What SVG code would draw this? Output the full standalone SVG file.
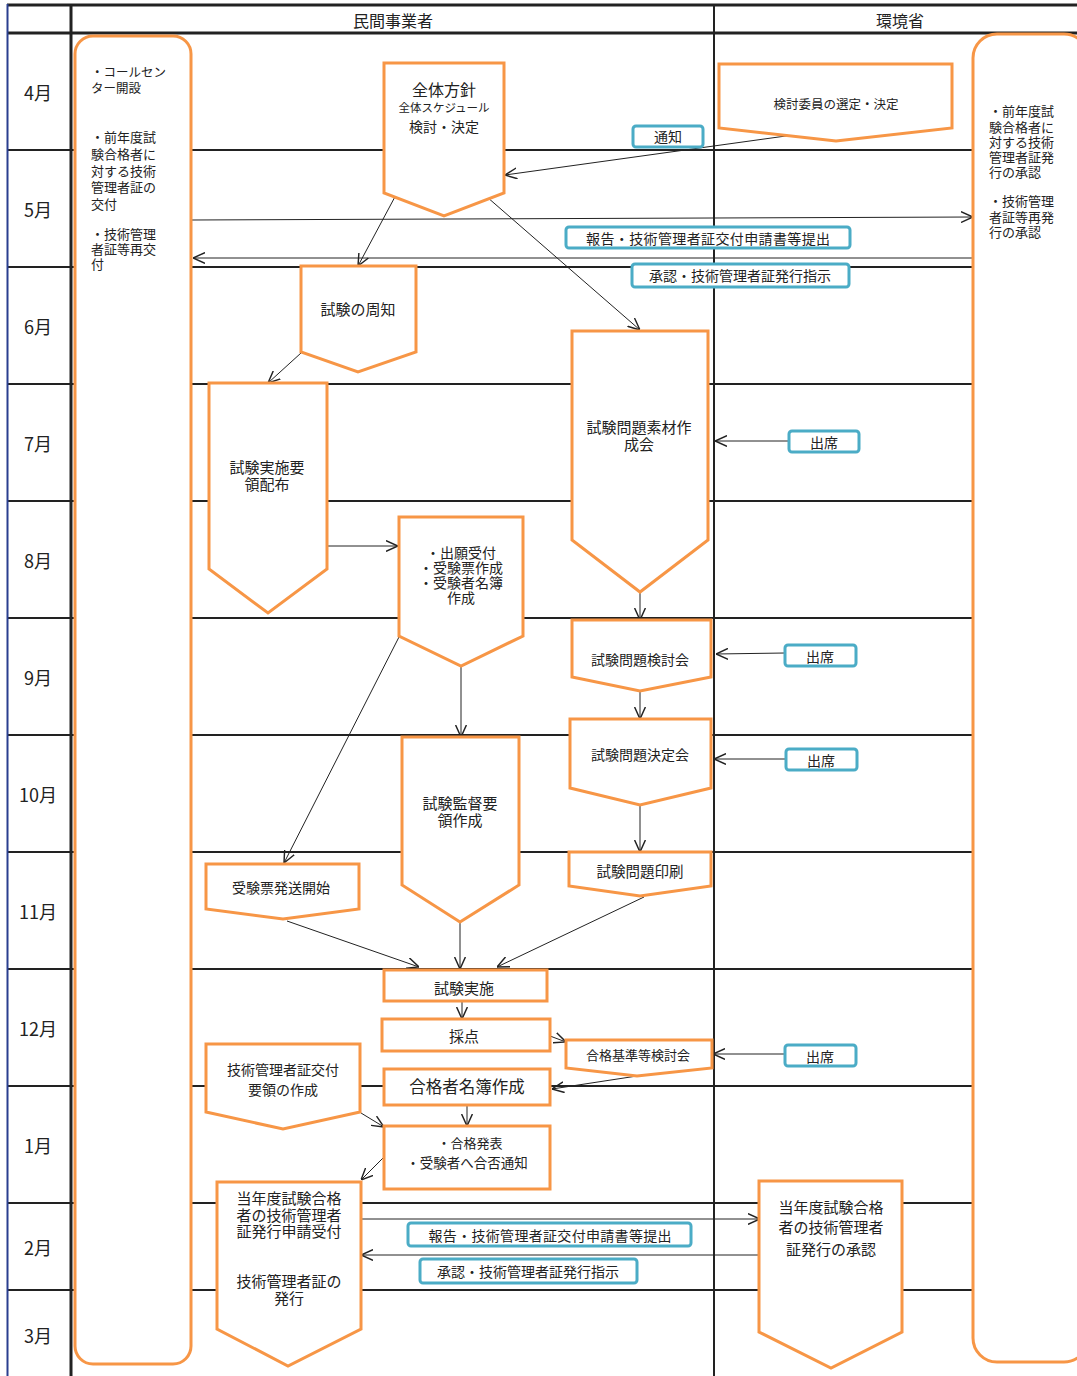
<svg xmlns="http://www.w3.org/2000/svg" width="1077" height="1376" viewBox="0 0 1077 1376">
<style>
text{font-family:"Noto Sans CJK JP","Noto Sans",sans-serif;fill:#222;text-anchor:middle;dominant-baseline:central}
.l{text-anchor:start}
.grid{stroke:#222;stroke-width:2;fill:none}
.thick{stroke:#222;stroke-width:3;fill:none}
.node{fill:#fff;stroke:#F79646;stroke-width:3;stroke-linejoin:miter}
.lbl{fill:#fff;stroke:#4BACC6;stroke-width:3}
.c{stroke:#222;stroke-width:1;fill:none;marker-end:url(#ah)}
.m{font-size:18px}
</style>
<defs>
<marker id="ah" viewBox="0 0 10 10" refX="10" refY="5" markerWidth="12" markerHeight="12" markerUnits="userSpaceOnUse" orient="auto">
<path d="M0,0.5 L10,5 L0,9.5" fill="none" stroke="#222" stroke-width="1.2"/>
</marker>
</defs>
<rect width="1077" height="1376" fill="#fff"/>
<g id="grid">
<line class="thick" x1="7" y1="5" x2="1077" y2="5"/>
<line class="thick" x1="7" y1="33" x2="1077" y2="33"/>
<line class="grid" x1="7" y1="150" x2="973" y2="150"/>
<line class="grid" x1="7" y1="267" x2="973" y2="267"/>
<line class="grid" x1="7" y1="384" x2="973" y2="384"/>
<line class="grid" x1="7" y1="501" x2="973" y2="501"/>
<line class="grid" x1="7" y1="618" x2="973" y2="618"/>
<line class="grid" x1="7" y1="735" x2="973" y2="735"/>
<line class="grid" x1="7" y1="852" x2="973" y2="852"/>
<line class="grid" x1="7" y1="969" x2="973" y2="969"/>
<line class="grid" x1="7" y1="1086" x2="973" y2="1086"/>
<line class="grid" x1="7" y1="1203" x2="973" y2="1203"/>
<line class="grid" x1="7" y1="1290" x2="973" y2="1290"/>
<line x1="7.5" y1="4" x2="7.5" y2="1376" stroke="#2a3f8f" stroke-width="2"/>
<line class="thick" x1="71" y1="4" x2="71" y2="1376"/>
<line class="grid" x1="714" y1="4" x2="714" y2="1376"/>
<text x="393" y="20" style="font-size:16px">民間事業者</text>
<text x="900" y="20" style="font-size:16px">環境省</text>
<text class="m" x="38" y="92">4月</text>
<text class="m" x="38" y="209">5月</text>
<text class="m" x="38" y="326">6月</text>
<text class="m" x="38" y="443">7月</text>
<text class="m" x="38" y="560">8月</text>
<text class="m" x="38" y="677">9月</text>
<text class="m" x="38" y="794">10月</text>
<text class="m" x="38" y="911">11月</text>
<text class="m" x="38" y="1028">12月</text>
<text class="m" x="38" y="1145">1月</text>
<text class="m" x="38" y="1247">2月</text>
<text class="m" x="38" y="1335">3月</text>
</g>
<g id="connectors">
<line class="c" x1="793" y1="135" x2="505" y2="175"/>
<line class="c" x1="191" y1="220" x2="973" y2="217"/>
<line class="c" x1="973" y1="258" x2="193" y2="258"/>
<line class="c" x1="397" y1="193" x2="358" y2="266"/>
<line class="c" x1="487" y1="197" x2="640" y2="330"/>
<line class="c" x1="301" y1="353" x2="268" y2="383"/>
<line class="c" x1="327" y1="546" x2="398" y2="546"/>
<line class="c" x1="789" y1="441" x2="715" y2="441"/>
<line class="c" x1="640" y1="592" x2="640" y2="620"/>
<line class="c" x1="785" y1="653" x2="716" y2="654"/>
<line class="c" x1="640" y1="692" x2="640" y2="719"/>
<line class="c" x1="786" y1="759" x2="714" y2="759"/>
<line class="c" x1="640" y1="806" x2="640" y2="852"/>
<line class="c" x1="644" y1="897" x2="497" y2="967"/>
<line class="c" x1="399" y1="637" x2="284" y2="863"/>
<line class="c" x1="461" y1="666" x2="461" y2="737"/>
<line class="c" x1="287" y1="921" x2="419" y2="967"/>
<line class="c" x1="460" y1="923" x2="460" y2="969"/>
<line class="c" x1="462" y1="1002" x2="462" y2="1019"/>
<line class="c" x1="550" y1="1036" x2="566" y2="1042"/>
<line class="c" x1="785" y1="1054" x2="713" y2="1054"/>
<line class="c" x1="637" y1="1076" x2="552" y2="1089"/>
<line class="c" x1="467" y1="1105" x2="467" y2="1126"/>
<line class="c" x1="361" y1="1113" x2="384" y2="1127"/>
<line class="c" x1="384" y1="1157" x2="361" y2="1180"/>
<line class="c" x1="361" y1="1219" x2="760" y2="1219"/>
<line class="c" x1="759" y1="1255" x2="361" y2="1255"/>
</g>
<g id="left-panel">
<rect class="node" x="75" y="36" width="116" height="1328" rx="18"/>
<text class="l" x="91" y="71" style="font-size:12.5px">・コールセン</text>
<text class="l" x="91" y="87" style="font-size:12.5px">ター開設</text>
<text class="l" x="91" y="136" style="font-size:13px">・前年度試</text>
<text class="l" x="91" y="153" style="font-size:13px">験合格者に</text>
<text class="l" x="91" y="170" style="font-size:13px">対する技術</text>
<text class="l" x="91" y="186" style="font-size:13px">管理者証の</text>
<text class="l" x="91" y="203" style="font-size:13px">交付</text>
<text class="l" x="91" y="233" style="font-size:13px">・技術管理</text>
<text class="l" x="91" y="248" style="font-size:13px">者証等再交</text>
<text class="l" x="91" y="263" style="font-size:13px">付</text>
</g>
<g id="right-panel">
<rect class="node" x="973" y="34" width="115" height="1328" rx="24"/>
<text class="l" x="989" y="110" style="font-size:13px">・前年度試</text>
<text class="l" x="989" y="126" style="font-size:13px">験合格者に</text>
<text class="l" x="989" y="141" style="font-size:13px">対する技術</text>
<text class="l" x="989" y="156" style="font-size:13px">管理者証発</text>
<text class="l" x="989" y="171" style="font-size:13px">行の承認</text>
<text class="l" x="989" y="200" style="font-size:13px">・技術管理</text>
<text class="l" x="989" y="216" style="font-size:13px">者証等再発</text>
<text class="l" x="989" y="231" style="font-size:13px">行の承認</text>
</g>
<g id="n-zentai">
<polygon class="node" points="384,63 504,63 504,193 444,216 384,193"/>
<text x="444" y="89" style="font-size:16px">全体方針</text>
<text x="444" y="107" style="font-size:11.5px">全体スケジュール</text>
<text x="444" y="126" style="font-size:14px">検討・決定</text>
</g>
<g id="n-iin">
<polygon class="node" points="719,64 952,64 952,128 836,141 719,128"/>
<text x="836" y="103" style="font-size:12.5px">検討委員の選定・決定</text>
</g>
<g id="l-tsuchi">
<rect class="lbl" x="633" y="126" width="70" height="21" rx="3"/>
<text x="668" y="136" style="font-size:14px">通知</text>
</g>
<g id="l-hokoku1">
<rect class="lbl" x="566" y="227" width="284" height="21" rx="3"/>
<text x="708" y="238" style="font-size:14px" textLength="244" lengthAdjust="spacing">報告・技術管理者証交付申請書等提出</text>
</g>
<g id="l-shonin1">
<rect class="lbl" x="632" y="264" width="217" height="23" rx="3"/>
<text x="740" y="275" style="font-size:14px">承認・技術管理者証発行指示</text>
</g>
<g id="n-shuchi">
<polygon class="node" points="301,266 416,266 416,352 358,372 301,352"/>
<text x="358" y="308" style="font-size:15px">試験の周知</text>
</g>
<g id="n-yoryo">
<polygon class="node" points="209,383 327,383 327,569 268,613 209,569"/>
<text x="267" y="466" style="font-size:15px">試験実施要</text>
<text x="267" y="483" style="font-size:15px">領配布</text>
</g>
<g id="n-shutsugan">
<polygon class="node" points="399,517 523,517 523,636 461,666 399,636"/>
<text x="461" y="552" style="font-size:14px">・出願受付</text>
<text x="461" y="567" style="font-size:14px">・受験票作成</text>
<text x="461" y="582" style="font-size:14px">・受験者名簿</text>
<text x="461" y="597" style="font-size:14px">作成</text>
</g>
<g id="n-sozai">
<polygon class="node" points="572,331 708,331 708,540 640,592 572,540"/>
<text x="639" y="426" style="font-size:15px">試験問題素材作</text>
<text x="639" y="443" style="font-size:15px">成会</text>
</g>
<g id="l-shusseki1">
<rect class="lbl" x="789" y="431" width="70" height="21" rx="3"/>
<text x="824" y="442" style="font-size:14px">出席</text>
</g>
<g id="n-kento">
<polygon class="node" points="572,620 711,620 711,677 640,691 572,677"/>
<text x="640" y="659" style="font-size:14px">試験問題検討会</text>
</g>
<g id="l-shusseki2">
<rect class="lbl" x="785" y="645" width="71" height="21" rx="3"/>
<text x="820" y="656" style="font-size:14px">出席</text>
</g>
<g id="n-kettei">
<polygon class="node" points="570,719 711,719 711,788 640,805 570,788"/>
<text x="640" y="754" style="font-size:14px">試験問題決定会</text>
</g>
<g id="l-shusseki3">
<rect class="lbl" x="786" y="749" width="71" height="21" rx="3"/>
<text x="821" y="760" style="font-size:14px">出席</text>
</g>
<g id="n-insatsu">
<polygon class="node" points="569,852 711,852 711,886 640,896 569,886"/>
<text x="640" y="870" style="font-size:14.5px">試験問題印刷</text>
</g>
<g id="n-kantoku">
<polygon class="node" points="402,737 519,737 519,885 460,922 402,885"/>
<text x="460" y="802" style="font-size:15px">試験監督要</text>
<text x="460" y="819" style="font-size:15px">領作成</text>
</g>
<g id="n-hasso">
<polygon class="node" points="206,864 359,864 359,909 283,919 206,909"/>
<text x="281" y="887" style="font-size:14px">受験票発送開始</text>
</g>
<g id="n-jisshi">
<rect class="node" x="384" y="970" width="163" height="31"/>
<text x="464" y="987" style="font-size:15px">試験実施</text>
</g>
<g id="n-saiten">
<rect class="node" x="382" y="1019" width="168" height="32"/>
<text x="464" y="1035" style="font-size:15px">採点</text>
</g>
<g id="n-kijun">
<polygon class="node" points="566,1040 712,1040 712,1068 637,1076 566,1068"/>
<text x="638" y="1054" style="font-size:13px">合格基準等検討会</text>
</g>
<g id="l-shusseki4">
<rect class="lbl" x="785" y="1045" width="71" height="21" rx="3"/>
<text x="820" y="1056" style="font-size:14px">出席</text>
</g>
<g id="n-meibo">
<rect class="node" x="384" y="1069" width="166" height="36"/>
<text x="467" y="1086" style="font-size:16.5px">合格者名簿作成</text>
</g>
<g id="n-happyo">
<rect class="node" x="384" y="1126" width="166" height="63"/>
<text x="470" y="1142" style="font-size:13px">・合格発表</text>
<text x="467" y="1162" style="font-size:13.5px">・受験者へ合否通知</text>
</g>
<g id="n-kofuyoryo">
<polygon class="node" points="206,1044 360,1044 360,1112 283,1129 206,1112"/>
<text x="283" y="1069" style="font-size:14px">技術管理者証交付</text>
<text x="283" y="1089" style="font-size:14px">要領の作成</text>
</g>
<g id="n-uketsuke">
<polygon class="node" points="217,1182 361,1182 361,1329 288,1366 217,1329"/>
<text x="289" y="1197" style="font-size:15px">当年度試験合格</text>
<text x="289" y="1214" style="font-size:15px">者の技術管理者</text>
<text x="289" y="1230" style="font-size:15px">証発行申請受付</text>
<text x="289" y="1280" style="font-size:15px">技術管理者証の</text>
<text x="289" y="1297" style="font-size:15px">発行</text>
</g>
<g id="n-shonin">
<polygon class="node" points="759,1181 902,1181 902,1332 831,1368 759,1332"/>
<text x="831" y="1206" style="font-size:15px">当年度試験合格</text>
<text x="831" y="1226" style="font-size:15px">者の技術管理者</text>
<text x="831" y="1248" style="font-size:15px">証発行の承認</text>
</g>
<g id="l-hokoku2">
<rect class="lbl" x="408" y="1223" width="283" height="23" rx="3"/>
<text x="550" y="1235" style="font-size:14px" textLength="243" lengthAdjust="spacing">報告・技術管理者証交付申請書等提出</text>
</g>
<g id="l-shonin2">
<rect class="lbl" x="420" y="1259" width="217" height="24" rx="3"/>
<text x="528" y="1271" style="font-size:14px">承認・技術管理者証発行指示</text>
</g>
</svg>
